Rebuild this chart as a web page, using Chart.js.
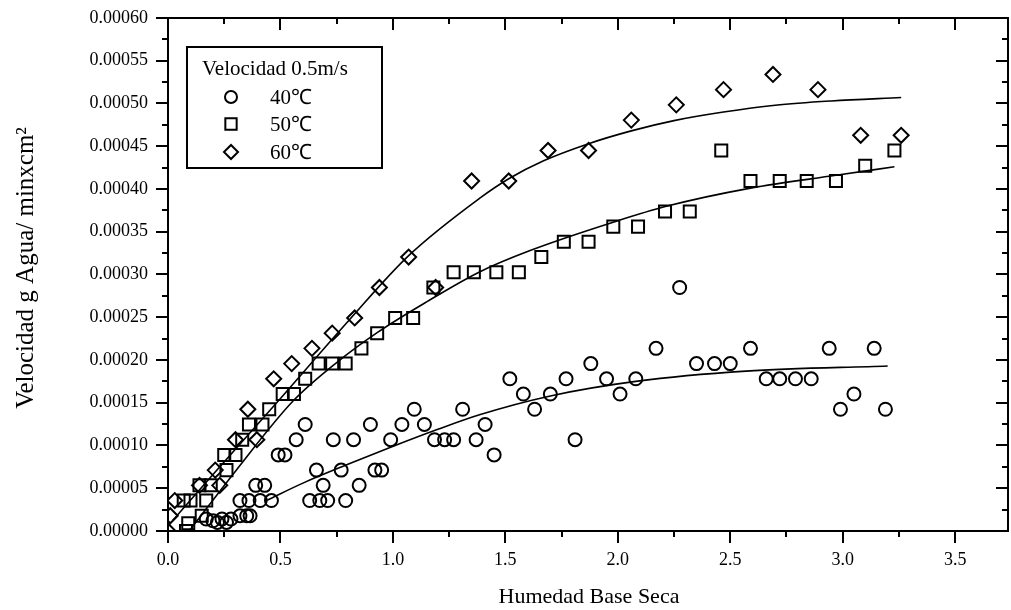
<!DOCTYPE html>
<html><head><meta charset="utf-8">
<script src="https://cdn.jsdelivr.net/npm/chart.js@4.4.1/dist/chart.umd.min.js"></script>
<style>html,body{margin:0;padding:0;background:#fff;}canvas{display:block;}</style>
</head><body>
<canvas id="c" width="1011" height="610"></canvas>
<script>
// ---- data ----
const temp40X = [0.17,0.20,0.22,0.24,0.26,0.28,0.32,0.35,0.365,0.32,0.36,0.41,0.46,0.39,0.43,0.49,0.52,0.57,0.61,0.63,0.675,0.71,0.69,0.66,0.735,0.77,0.79,0.825,0.85,0.90,0.92,0.95,0.99,1.04,1.095,1.14,1.185,1.23,1.27,1.31,1.37,1.41,1.45,1.52,1.58,1.63,1.70,1.77,1.81,1.88,1.95,2.01,2.08,2.17,2.275,2.35,2.43,2.50,2.59,2.66,2.72,2.79,2.86,2.94,2.99,3.05,3.14,3.19];
const temp40Y = [0.000014,0.000012,0.00001,0.000014,0.00001,0.000014,0.0000178,0.0000178,0.0000178,0.0000356,0.0000356,0.0000356,0.0000356,0.0000534,0.0000534,0.000089,0.000089,0.0001068,0.0001246,0.0000356,0.0000356,0.0000356,0.0000534,0.0000712,0.0001068,0.0000712,0.0000356,0.0001068,0.0000534,0.0001246,0.0000712,0.0000712,0.0001068,0.0001246,0.0001424,0.0001246,0.0001068,0.0001068,0.0001068,0.0001424,0.0001068,0.0001246,0.000089,0.000178,0.0001602,0.0001424,0.0001602,0.000178,0.0001068,0.0001958,0.000178,0.0001602,0.000178,0.0002136,0.0002848,0.0001958,0.0001958,0.0001958,0.0002136,0.000178,0.000178,0.000178,0.000178,0.0002136,0.0001424,0.0001602,0.0002136,0.0001424];

const temp50X = [0.08,0.09,0.07,0.10,0.15,0.17,0.14,0.19,0.26,0.25,0.30,0.33,0.36,0.42,0.45,0.51,0.56,0.61,0.67,0.73,0.79,0.86,0.93,1.01,1.09,1.18,1.27,1.36,1.46,1.56,1.66,1.76,1.87,1.98,2.09,2.21,2.32,2.46,2.59,2.72,2.84,2.97,3.10,3.23];
const temp50Y = [0,0.000009,0.0000356,0.0000356,0.0000178,0.0000356,0.0000534,0.0000534,0.0000712,0.000089,0.000089,0.0001068,0.0001246,0.0001246,0.0001424,0.0001602,0.0001602,0.000178,0.0001958,0.0001958,0.0001958,0.0002136,0.0002314,0.0002492,0.0002492,0.0002848,0.0003026,0.0003026,0.0003026,0.0003026,0.0003204,0.0003382,0.0003382,0.000356,0.000356,0.0003738,0.0003738,0.000445,0.0004094,0.0004094,0.0004094,0.0004094,0.0004272,0.000445];

const temp60X = [0.00,0.01,0.03,0.14,0.21,0.23,0.30,0.355,0.395,0.47,0.55,0.64,0.73,0.83,0.94,1.07,1.19,1.35,1.515,1.69,1.87,2.06,2.26,2.47,2.69,2.89,3.08,3.26];
const temp60Y = [0,0.0000178,0.0000356,0.0000534,0.0000712,0.0000534,0.0001068,0.0001424,0.0001068,0.000178,0.0001958,0.0002136,0.0002314,0.0002492,0.0002848,0.0003204,0.0002848,0.0004094,0.0004094,0.000445,0.000445,0.0004806,0.0004984,0.0005162,0.000534,0.0005162,0.0004628,0.0004628];

// fitted curves
const fit40X = [0.44,0.6,0.8,0.99,1.2,1.385,1.7,2.08,2.57,3.2];
const fit40Y = [0.000036,0.000056,0.000078,0.000098,0.000119,0.000136,0.000158,0.000175,0.000187,0.000193];
const fit50X = [0.10,0.3,0.556,0.75,0.93,1.15,1.385,1.61,1.99,2.22,2.59,2.97,3.23];
const fit50Y = [0.000002,0.00007,0.000152,0.000197,0.000232,0.000268,0.000303,0.000328,0.000362,0.00038,0.000401,0.000416,0.000426];
const fit60X = [0.02,0.2,0.5,0.8,1.07,1.385,1.515,1.67,1.87,2.06,2.25,2.47,2.7,2.95,3.26];
const fit60Y = [0.000012,0.000066,0.000155,0.000245,0.000322,0.000389,0.000412,0.000433,0.000453,0.000468,0.00048,0.00049,0.000498,0.000503,0.000507];

const seriesLabels = ['40℃','50℃','60℃'];
const legendTitle = 'Velocidad 0.5m/s';
const xTitle = 'Humedad Base Seca';
const yTitle = 'Velocidad g Agua/ minxcm²';
const xTickValues = [0, 0.5, 1.0, 1.5, 2.0, 2.5, 3.0, 3.5];
const xMinorStep = 0.25;
const yMajorStep = 0.00005, yMinorStep = 0.000025;

// ---- build ----
const zip = (xs, ys) => xs.map((x, i) => ({x, y: ys[i]}));
const FONT = "'Liberation Serif','Times New Roman',serif";

const markerDs = (label, xs, ys, style, r) => ({
  label, data: zip(xs, ys), pointStyle: style, pointRadius: r, pointHoverRadius: r,
  borderColor: '#000', backgroundColor: 'rgba(0,0,0,0)', pointBorderWidth: 2, borderWidth: 2
});
const fitDs = (xs, ys) => ({
  type: 'line', label: 'fit', data: zip(xs, ys), borderColor: '#000', borderWidth: 1.6,
  pointRadius: 0, fill: false, cubicInterpolationMode: 'monotone'
});

const framePlugin = {
  id: 'frame',
  afterDatasetsDraw(chart) {
    const ctx = chart.ctx, a = chart.chartArea, xs = chart.scales.x, ys = chart.scales.y;
    ctx.save();
    ctx.strokeStyle = '#000';
    ctx.lineWidth = 2;
    ctx.strokeRect(a.left, a.top, a.right - a.left, a.bottom - a.top);
    ctx.beginPath();
    for (let i = 0; ; i++) {
      const v = i * xMinorStep;
      if (v > xs.max + 1e-9) break;
      const px = Math.round(xs.getPixelForValue(v));
      const len = (i % 2 === 0) ? 12 : 6;
      ctx.moveTo(px, a.bottom); ctx.lineTo(px, a.bottom + len);
      ctx.moveTo(px, a.top); ctx.lineTo(px, a.top + len);
    }
    for (let i = 0; ; i++) {
      const v = i * yMinorStep;
      if (v > ys.max + 1e-12) break;
      const py = Math.round(ys.getPixelForValue(v));
      const len = (i % 2 === 0) ? 12 : 6;
      ctx.moveTo(a.left, py); ctx.lineTo(a.left - len, py);
      ctx.moveTo(a.right, py); ctx.lineTo(a.right - len, py);
    }
    ctx.stroke();
    ctx.restore();
  }
};

const textPlugin = {
  id: 'texts',
  afterDraw(chart) {
    const ctx = chart.ctx;
    ctx.save();
    ctx.fillStyle = '#000';
    ctx.font = '22px ' + FONT;
    ctx.textAlign = 'center';
    ctx.textBaseline = 'middle';
    ctx.fillText(xTitle, 589, 597);
    ctx.save();
    ctx.translate(26, 268);
    ctx.rotate(-Math.PI / 2);
    ctx.font = '25px ' + FONT;
    ctx.fillText(yTitle, 0, 0);
    ctx.restore();
    // legend box
    ctx.strokeStyle = '#000';
    ctx.lineWidth = 2;
    ctx.fillStyle = '#fff';
    ctx.fillRect(187, 47, 195, 121);
    ctx.strokeRect(187, 47, 195, 121);
    ctx.fillStyle = '#000';
    ctx.textAlign = 'left';
    ctx.font = '21px ' + FONT;
    ctx.fillText(legendTitle, 202, 69);
    const rows = [97, 124, 152];
    const styles = ['circle', 'rect', 'rectRot'];
    const radii = [6, 8, 7];
    rows.forEach((y, i) => {
      ctx.save();
      ctx.fillStyle = 'rgba(0,0,0,0)';
      ctx.strokeStyle = '#000';
      ctx.lineWidth = 2;
      Chart.helpers.drawPoint(ctx, {pointStyle: styles[i], radius: radii[i], borderWidth: 2}, 231, y);
      ctx.restore();
      ctx.fillText(seriesLabels[i], 270, y + 1);
    });
    ctx.restore();
  }
};

const chart = new Chart(document.getElementById('c'), {
  type: 'scatter',
  data: {
    datasets: [
      markerDs(seriesLabels[0], temp40X, temp40Y, 'circle', 6.5),
      markerDs(seriesLabels[1], temp50X, temp50Y, 'rect', 8.5),
      markerDs(seriesLabels[2], temp60X, temp60Y, 'rectRot', 7.5),
      fitDs(fit40X, fit40Y),
      fitDs(fit50X, fit50Y),
      fitDs(fit60X, fit60Y)
    ]
  },
  options: {
    responsive: false, animation: false, devicePixelRatio: 1,
    layout: {autoPadding: false, padding: {top: 18, right: 3, left: 0, bottom: 0}},
    plugins: {legend: {display: false}, tooltip: {enabled: false}},
    events: [],
    scales: {
      x: {
        type: 'linear', min: 0, max: 3.735,
        afterFit(s) { s.height = 79; },
        afterBuildTicks(s) { s.ticks = xTickValues.map(v => ({value: v})); },
        ticks: {padding: 0, color: '#000', font: {family: FONT, size: 18}, maxRotation: 0, autoSkip: false,
          callback: v => Number(v).toFixed(1)},
        grid: {display: false, drawTicks: true, tickLength: 18}, border: {display: false}
      },
      y: {
        type: 'linear', min: 0, max: 0.0006,
        afterFit(s) { s.width = 168; },
        ticks: {stepSize: yMajorStep, padding: 0, color: '#000', font: {family: FONT, size: 18}, autoSkip: false,
          callback: v => Number(v).toFixed(5)},
        grid: {display: false, drawTicks: true, tickLength: 20}, border: {display: false}
      }
    }
  },
  plugins: [framePlugin, textPlugin]
});

// align the plot area with the reference frame (only where possible)
const target = {left: 168, right: 1008, top: 18, bottom: 531};
for (let k = 0; k < 3; k++) {
  const a = chart.chartArea, p = chart.options.layout.padding;
  const dt = target.top - a.top, dl = target.left - a.left, dr = a.right - target.right, db = a.bottom - target.bottom;
  if (!dt && !dl && !dr && !db) break;
  p.top = Math.max(0, p.top + dt);
  p.left = Math.max(0, p.left + dl);
  p.right = Math.max(0, p.right + dr);
  p.bottom = Math.max(0, p.bottom + db);
  chart.update();
}
</script>
</body></html>
